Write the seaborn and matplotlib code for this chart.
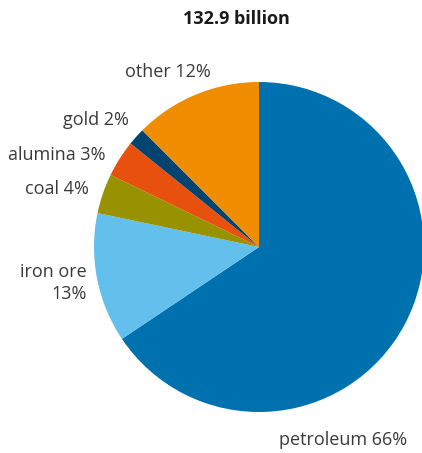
import matplotlib
matplotlib.use("Agg")
import matplotlib.pyplot as plt
import seaborn as sns

sns.set_theme(style="white")
plt.rcParams['font.family'] = ['Open Sans', 'DejaVu Sans']

categories = ["petroleum", "iron ore", "coal", "alumina", "gold", "other"]
shares = [65.6, 12.7, 3.9, 3.6, 1.7, 12.5]
label_pct = [66, 13, 4, 3, 2, 12]
colors = ["#0071AF", "#63BFEB", "#999200", "#E8500E", "#00446F", "#F08C00"]
title = "132.9 billion"

W, H = 422, 453
fig = plt.figure(figsize=(W / 100, H / 100), dpi=100)
cx, cy, r = 259, 247, 165
ax = fig.add_axes([(cx - r) / W, (H - cy - r) / H, 2 * r / W, 2 * r / H])
ax.pie(shares, colors=colors, startangle=90, counterclock=False,
       radius=1, wedgeprops=dict(linewidth=0))
ax.set_xlim(-1, 1)
ax.set_ylim(-1, 1)
ax.set_aspect("auto")
ax.axis("off")

tc = "#3a3a3a"
fs = 13

def px(x, y, s, ha="left", **kw):
    fig.text(x / W, 1 - y / H, s, ha=ha, va="center", color=tc, fontsize=fs, **kw)

fig.text(236 / W, 1 - 19 / H, title, ha="center", va="center",
         fontsize=13, fontweight="bold", color="#1a1a1a")
labels = [f"{c} {v}%" for c, v in zip(categories, label_pct)]
px(407, 440, labels[0], ha="right")
px(87, 272, "iron ore", ha="right")
px(87, 294, f"{label_pct[1]}%", ha="right")
px(89, 189, labels[2], ha="right")
px(106, 155, labels[3], ha="right")
px(129, 120, labels[4], ha="right")
px(168, 72, labels[5], ha="center")

fig.savefig("out.png", dpi=100)
